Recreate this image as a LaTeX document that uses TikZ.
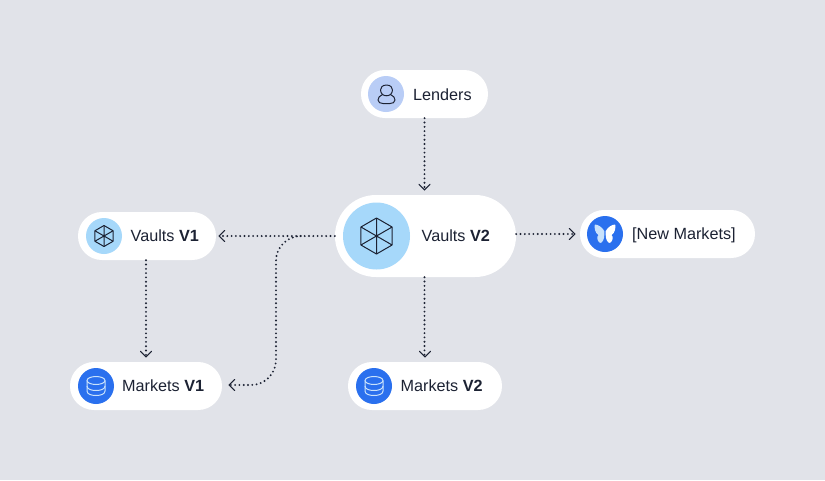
\documentclass[tikz,border=0pt]{standalone}
\usepackage{fontspec}
\setmainfont{Liberation Sans}
\definecolor{bgc}{HTML}{E1E3E9}
\definecolor{sky}{HTML}{A6D8FA}
\definecolor{peri}{HTML}{B9CDF6}
\definecolor{royal}{HTML}{2A70EE}
\definecolor{inkc}{HTML}{1C2233}
\definecolor{paleb}{HTML}{C9E2FB}
\tikzset{
  pill/.style={fill=white,draw=none,rounded corners=23.9pt,minimum height=48pt,inner sep=0pt},
  bigpill/.style={fill=white,draw=none,rounded corners=40.9pt,minimum height=82pt,inner sep=0pt},
  disc/.style={circle,inner sep=0pt,minimum size=36pt,draw=none},
  label/.style={inner sep=0pt,anchor=base west,text=inkc,font=\fontsize{16.2}{19}\selectfont},
  flow/.style={draw=inkc,line width=2.1pt,line cap=round,dash pattern=on 0pt off 4.3pt},
  tipline/.style={draw=inkc,line width=1.1pt,line cap=round,line join=miter},
  hexline/.style={draw=inkc,line width=1pt,line join=round},
  pics/hexicon/.style={code={
    \draw[hexline] (90:#1) -- (30:#1) -- (-30:#1) -- (-90:#1) -- (-150:#1) -- (150:#1) -- cycle;
    \draw[hexline] (90:#1) -- (-90:#1) (30:#1) -- (-150:#1) (150:#1) -- (-30:#1);
  }},
  pics/dbicon/.style={code={
    \begin{scope}[draw=paleb,line width=1pt]
    \draw (0,-5.5) ellipse (9pt and 4pt);
    \draw (-9,-5.5) -- (-9,5) .. controls (-9,8) and (-5,9.5) .. (0,9.5) .. controls (5,9.5) and (9,8) .. (9,5) -- (9,-5.5);
    \draw (-9,0) .. controls (-9,3) and (-5,4.5) .. (0,4.5) .. controls (5,4.5) and (9,3) .. (9,0);
    \end{scope}
  }},
}
\begin{document}
\begin{tikzpicture}[x=1pt,y=-1pt]
\useasboundingbox (0,0) rectangle (825,480);
\fill[bgc] (0,0) rectangle (825,480);
% pills
\node[pill,minimum width=127pt] (lenders) at (424.5,94) {};
\node[bigpill,minimum width=181pt] (vv2) at (425.5,236) {};
\node[pill,minimum width=138pt] (vv1) at (147,236) {};
\node[pill,minimum width=152pt] (mv1) at (146,386) {};
\node[pill,minimum width=154pt] (mv2) at (425,386) {};
\node[pill,minimum width=175pt] (newm) at (667.5,234) {};
% discs
\node[disc,fill=peri] (dl) at (386,94) {};
\node[disc,fill=sky,minimum size=67pt] (dv2) at (376.5,236) {};
\node[disc,fill=sky] (dv1) at (104,236) {};
\node[disc,fill=royal] (dm1) at (96,386) {};
\node[disc,fill=royal] (dm2) at (374,386) {};
\node[disc,fill=royal] (dn) at (605,234) {};
% labels
\node[label] (tl) at (413,100) {Lenders};
\node[label] (tv2) at (421.5,241.5) {Vaults \textbf{V2}};
\node[label] (tv1) at (130.5,241.5) {Vaults \textbf{V1}};
\node[label] (tm1) at (122,391.5) {Markets \textbf{V1}};
\node[label] (tm2) at (400.5,391.5) {Markets \textbf{V2}};
\node[label] (tn) at (632,239.5) {[New Markets]};
% icons
\pic at (dv2.center) {hexicon=18};
\pic at (dv1.center) {hexicon=10.5};
\pic at (dm1.center) {dbicon};
\pic at (dm2.center) {dbicon};
% person
\draw[inkc,line width=1pt,line join=round] (386.5,85)
  .. controls (382,85) and (380.5,88) .. (380.5,90)
  .. controls (380.5,92) and (381.5,93.5) .. (382.5,94.5)
  .. controls (379.5,95.5) and (378,98) .. (378,100)
  .. controls (378,102.5) and (380.5,103.5) .. (383,103.5)
  -- (390,103.5)
  .. controls (392.5,103.5) and (395,102.5) .. (395,100)
  .. controls (395,98) and (393.5,95.5) .. (390.5,94.5)
  .. controls (391.5,93.5) and (392.5,92) .. (392.5,90)
  .. controls (392.5,88) and (391,85) .. (386.5,85) -- cycle;
\draw[inkc,line width=1pt] (382.5,94.5) .. controls (384.5,96.2) and (388.5,96.2) .. (390.5,94.5);
% butterfly
\fill[paleb] (604.3,231) .. controls (602,227) and (598,224.5) .. (594.8,224.5)
  .. controls (594.2,228) and (595,233) .. (598.5,235)
  .. controls (596.5,236.5) and (597,241) .. (600,243)
  .. controls (602.5,243) and (604.3,239) .. (604.3,235) -- cycle;
\fill[white] (605.7,231) .. controls (608,227) and (612,224.5) .. (615.2,224.5)
  .. controls (615.8,228) and (615,233) .. (611.5,235)
  .. controls (613.5,236.5) and (613,241) .. (610,243)
  .. controls (607.5,243) and (605.7,239) .. (605.7,235) -- cycle;
% connectors
\coordinate (vjoin) at (276,236);
\coordinate (vdrop) at (276,385);
\draw[flow,shorten >=6pt] (lenders.south) -- (lenders.south |- vv2.north);
\draw[flow,shorten >=3pt] (vv2.west) -- (vv1.east);
\draw[flow,rounded corners=25pt] ([xshift=-34pt]vv2.west) -- (vjoin) -- (vdrop) -- ([xshift=8pt,yshift=1pt]mv1.east);
\draw[flow,shorten >=6pt] ([xshift=-1pt]vv1.south) -- ([xshift=-1pt]vv1.south |- mv1.north);
\draw[flow,shorten >=6pt] ([xshift=-1pt]vv2.south) -- ([xshift=-1pt]vv2.south |- mv2.north);
\draw[flow,shorten >=5pt] (vv2.east |- newm.east) -- (newm.west);
% arrow tips
\foreach \n in {lenders.south |- vv2.north, mv2.north}{
  \draw[tipline] ([xshift=-5.5pt,yshift=10.5pt]\n) -- ([yshift=5pt]\n) -- ([xshift=5.5pt,yshift=10.5pt]\n);
}
\draw[tipline] ([xshift=-5.5pt,yshift=10.5pt]mv1.north) -- ([yshift=5pt]mv1.north) -- ([xshift=5.5pt,yshift=10.5pt]mv1.north);
\draw[tipline] ([xshift=8.5pt,yshift=-5.5pt]vv1.east) -- ([xshift=3pt]vv1.east) -- ([xshift=8.5pt,yshift=5.5pt]vv1.east);
\draw[tipline] ([xshift=12.5pt,yshift=-4.5pt]mv1.east) -- ([xshift=7pt,yshift=1pt]mv1.east) -- ([xshift=12.5pt,yshift=6.5pt]mv1.east);
\draw[tipline] ([xshift=-10.5pt,yshift=-5.5pt]newm.west) -- ([xshift=-5pt]newm.west) -- ([xshift=-10.5pt,yshift=5.5pt]newm.west);
\end{tikzpicture}
\end{document}
